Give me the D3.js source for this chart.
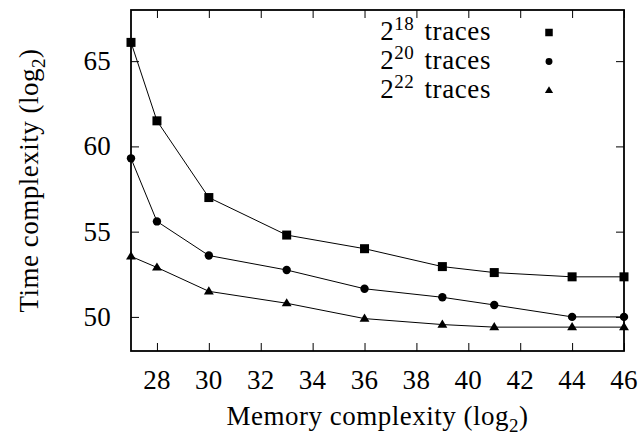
<!DOCTYPE html>
<html>
<head>
<meta charset="utf-8">
<script src="https://cdn.jsdelivr.net/npm/d3@7"></script>
<style>
  html, body { margin: 0; padding: 0; background: #fff; }
</style>
</head>
<body>
<svg id="chart" width="643" height="439" font-family="Liberation Serif"></svg>
<script>
// Memory complexity (log2) on the x axis
const memory = [27, 28, 30, 33, 36, 39, 41, 44, 46];

// Time complexity (log2) for each number of traces
const time18 = [66.1, 61.5, 57.0, 54.8, 54.0, 52.95, 52.6, 52.35, 52.35];
const time20 = [59.3, 55.6, 53.6, 52.75, 51.65, 51.15, 50.7, 50.0, 50.0];
const time22 = [53.55, 52.9, 51.5, 50.8, 49.9, 49.55, 49.4, 49.4, 49.4];

const seriesNames = ["18", "20", "22"];
const seriesShapes = ["square", "circle", "triangle"];

const xTicks = [28, 30, 32, 34, 36, 38, 40, 42, 44, 46];
const yTicks = [50, 55, 60, 65];

const W = 643, H = 439;
const margin = { top: 10, right: 19, bottom: 88, left: 131 };
const svg = d3.select("#chart");

const x = d3.scaleLinear().domain([27, 46]).range([margin.left, W - margin.right]);
const y = d3.scaleLinear().domain([48, 68]).range([H - margin.bottom, margin.top]);

const tickLen = 8;
const fontSize = 27;
const subSize = 19;
const FONT = "Liberation Serif";

// Axes: ticks point inward on all four sides; labels drawn separately below
const gx = svg.append("g").attr("transform", `translate(0,${H - margin.bottom})`)
  .call(d3.axisBottom(x).tickValues(xTicks).tickSize(-tickLen).tickFormat(""));
const gxTop = svg.append("g").attr("transform", `translate(0,${margin.top})`)
  .call(d3.axisTop(x).tickValues(xTicks).tickSize(-tickLen).tickFormat(""));
const gy = svg.append("g").attr("transform", `translate(${margin.left},0)`)
  .call(d3.axisLeft(y).tickValues(yTicks).tickSize(-tickLen).tickFormat(""));
const gyRight = svg.append("g").attr("transform", `translate(${W - margin.right},0)`)
  .call(d3.axisRight(y).tickValues(yTicks).tickSize(-tickLen).tickFormat(""));

[gx, gxTop, gy, gyRight].forEach(g => {
  g.select(".domain").remove();
  g.selectAll(".tick text").remove();
  g.selectAll(".tick line").attr("stroke", "#000").attr("stroke-width", 1);
});

// Tick labels as text with tspans, placed from the same scales
const labels = svg.append("g").attr("font-family", FONT).attr("font-size", fontSize);
labels.selectAll("text.xl").data(xTicks).join("text").attr("class", "xl")
  .attr("x", d => x(d)).attr("y", H - margin.bottom + 38)
  .attr("text-anchor", "middle").style("letter-spacing", "0.3px")
  .append("tspan").text(d => d);
labels.selectAll("text.yl").data(yTicks).join("text").attr("class", "yl")
  .attr("x", margin.left - 20).attr("y", d => y(d) + 9)
  .attr("text-anchor", "end").style("letter-spacing", "0.3px")
  .append("tspan").text(d => d);

// Frame
svg.append("rect")
  .attr("x", margin.left).attr("y", margin.top)
  .attr("width", W - margin.left - margin.right)
  .attr("height", H - margin.top - margin.bottom)
  .attr("fill", "none").attr("stroke", "#000").attr("stroke-width", 1.8);

// Axis titles
function logTitle(sel, label) {
  sel.attr("font-family", FONT).attr("text-anchor", "middle").attr("font-size", fontSize)
    .style("letter-spacing", "0.5px");
  sel.append("tspan").text(label + " (log");
  sel.append("tspan").attr("dy", 7).attr("font-size", subSize).text("2");
  sel.append("tspan").attr("dy", -7).text(")");
}
logTitle(svg.append("text")
  .attr("x", (margin.left + W - margin.right) / 2).attr("y", 425), "Memory complexity");
logTitle(svg.append("text")
  .attr("transform", `translate(38,${(margin.top + H - margin.bottom) / 2}) rotate(-90)`),
  "Time complexity");

// Marker shapes
function marker(sel, shape, size) {
  if (shape === "square") {
    sel.append("rect").attr("x", -size / 2).attr("y", -size / 2)
      .attr("width", size).attr("height", size).attr("fill", "#000");
  } else if (shape === "circle") {
    sel.append("circle").attr("r", size / 2 - 0.3).attr("fill", "#000");
  } else {
    const h = size * 0.9;
    sel.append("path")
      .attr("d", `M0,${-h * 0.62}L${size * 0.55},${h * 0.38}L${-size * 0.55},${h * 0.38}Z`)
      .attr("fill", "#000");
  }
}

const allSeries = [time18, time20, time22];
const line = d3.line().x(d => x(d[0])).y(d => y(d[1]));

allSeries.forEach((vals, i) => {
  const pts = memory.map((m, j) => [m, vals[j]]);
  svg.append("path").datum(pts).attr("d", line)
    .attr("fill", "none").attr("stroke", "#000").attr("stroke-width", 1);
  svg.append("g").selectAll("g").data(pts).join("g")
    .attr("transform", d => `translate(${x(d[0])},${y(d[1])})`)
    .each(function () { marker(d3.select(this), seriesShapes[i], 9); });
});

// Legend: "2^n traces" with the marker to the right
const legend = svg.append("g");
seriesNames.forEach((n, i) => {
  const yy = 40 + i * 29;
  const t = legend.append("text").attr("font-family", FONT)
    .attr("x", 491).attr("y", yy)
    .attr("text-anchor", "end").attr("font-size", fontSize)
    .style("letter-spacing", "0.6px");
  t.append("tspan").text("2");
  t.append("tspan").attr("dy", -10).attr("font-size", subSize).text(n);
  t.append("tspan").attr("dy", 10).attr("dx", 10).text("traces");
  const g = legend.append("g").attr("transform", `translate(549,${yy - 7.5})`);
  marker(g, seriesShapes[i], 7.5);
});
</script>
</body>
</html>
